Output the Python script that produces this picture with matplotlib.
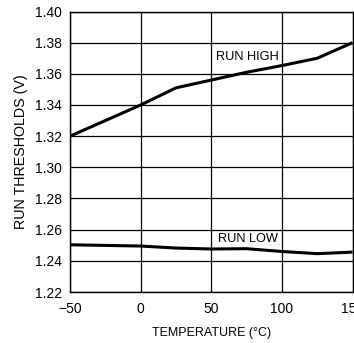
import matplotlib
matplotlib.use("Agg")
import matplotlib.pyplot as plt
from matplotlib import font_manager

names = {f.name for f in font_manager.fontManager.ttflist}
fam = ["Liberation Sans Narrow", "DejaVu Sans"] if "Liberation Sans Narrow" in names else ["Liberation Sans", "DejaVu Sans"]
plt.rcParams['font.family'] = fam

temp = [-50, 0, 25, 50, 75, 100, 125, 150]
run_high = [1.320, 1.340, 1.351, 1.356, 1.361, 1.3653, 1.370, 1.380]
run_low = [1.2503, 1.2495, 1.2482, 1.2476, 1.2478, 1.2460, 1.2446, 1.2456]
xticks = [-50, 0, 50, 100, 150]
xticklabels = ["\u221250", "0", "50", "100", "150"]
yticks = [1.22, 1.24, 1.26, 1.28, 1.30, 1.32, 1.34, 1.36, 1.38, 1.40]

fig = plt.figure(figsize=(3.54, 3.43), dpi=100)
ax = fig.add_axes([70/354, 1-292/343, 282.5/354, 280.5/343])
ax.plot(temp, run_high, color='black', lw=2.2, solid_capstyle='butt')
ax.plot(temp, run_low, color='black', lw=2.2, solid_capstyle='butt')
ax.set_xlim(-50, 150)
ax.set_ylim(1.22, 1.40)
ax.set_xticks(xticks)
ax.set_xticklabels(xticklabels)
ax.set_yticks(yticks)
ax.set_yticklabels([f"{v:.2f}" for v in yticks])
ax.grid(True, color='black', lw=0.9)
ax.tick_params(axis='y', length=0, labelsize=10, pad=6)
ax.tick_params(axis='x', length=0, labelsize=10, pad=7)
for s in ax.spines.values():
    s.set_linewidth(1.0)
ax.text(75.5, 1.3708, "RUN HIGH", ha='center', va='center', fontsize=9.2)
ax.text(76, 1.2542, "RUN LOW", ha='center', va='center', fontsize=9.2)
ax.set_xlabel("TEMPERATURE (\u00b0C)", fontsize=9, labelpad=8)
ax.set_ylabel("RUN THRESHOLDS (V)", fontsize=10.3, labelpad=5)
for lab in ax.get_xticklabels() + ax.get_yticklabels():
    lab.set_clip_on(False)
fig.savefig("out.png", dpi=100)
